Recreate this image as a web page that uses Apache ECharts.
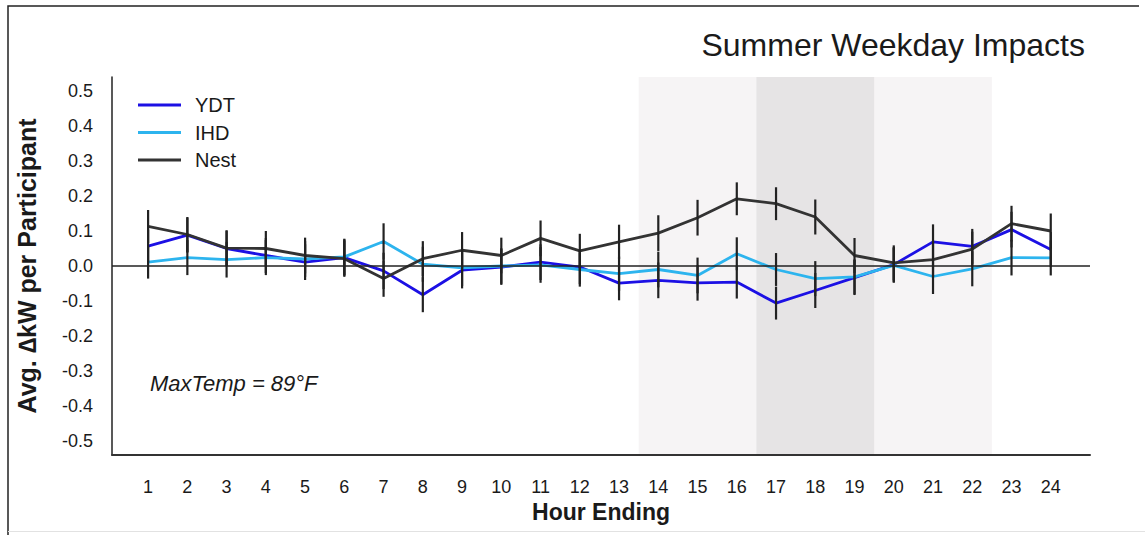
<!DOCTYPE html>
<html>
<head>
<meta charset="utf-8">
<script src="https://cdn.jsdelivr.net/npm/echarts@6/dist/echarts.min.js"></script>
<style>
  html, body { margin: 0; padding: 0; background: #fff; }
  #chart { width: 1145px; height: 535px; }
</style>
</head>
<body>
<div id="chart"></div>
<script>
// Hour-ending categories (1..24)
const hours = [1,2,3,4,5,6,7,8,9,10,11,12,13,14,15,16,17,18,19,20,21,22,23,24];

// Average change in kW per participant, by hour ending
const ydt  = [0.057,0.088,0.050,0.030,0.011,0.024,-0.014,-0.082,-0.012,-0.003,0.011,-0.003,
              -0.049,-0.041,-0.048,-0.046,-0.106,-0.070,-0.033,0.004,0.069,0.056,0.104,0.047];
const ihd  = [0.011,0.024,0.018,0.024,0.020,0.026,0.070,0.005,-0.005,0.000,0.003,-0.010,
              -0.022,-0.010,-0.027,0.035,-0.010,-0.036,-0.031,0.002,-0.030,-0.008,0.024,0.023];
const nest = [0.113,0.090,0.051,0.050,0.030,0.021,-0.036,0.021,0.045,0.030,0.079,0.043,
              0.069,0.094,0.138,0.192,0.178,0.140,0.030,0.009,0.018,0.048,0.121,0.100];

// Half-width of the confidence interval at each hour
const ciHalf = [0.047,0.050,0.051,0.050,0.051,0.052,0.052,0.050,0.052,0.051,0.051,0.049,
                0.049,0.051,0.051,0.047,0.047,0.050,0.050,0.050,0.050,0.050,0.051,0.050];

// Y tick labels
const yTicks = [-0.5,-0.4,-0.3,-0.2,-0.1,0,0.1,0.2,0.3,0.4,0.5];

// Peak windows (shaded)
const shoulderWindow = [13.5, 22.5];
const peakWindow = [16.5, 19.5];

const seriesList = [
  { name: 'YDT',  values: ydt,  color: '#1c10e4' },
  { name: 'IHD',  values: ihd,  color: '#2db4ee' },
  { name: 'Nest', values: nest, color: '#333333' }
];

const font = '"Liberation Sans", Arial, Helvetica, sans-serif';

// Error bar segments: [hour, low, high]
const errData = [];
seriesList.forEach(s => {
  s.values.forEach((v, i) => {
    errData.push([hours[i], v - ciHalf[i], v + ciHalf[i]]);
  });
});

const chart = echarts.init(document.getElementById('chart'), null, { renderer: 'svg' });

const lineSeries = seriesList.map(s => ({
  name: s.name,
  type: 'line',
  data: s.values.map((v, i) => [hours[i], v]),
  symbol: 'none',
  z: 3,
  lineStyle: { color: s.color, width: 2.8 },
  itemStyle: { color: s.color },
  animation: false
}));

// Shaded windows and zero line live on the first series
lineSeries[0].markArea = {
  silent: true,
  z: 0,
  data: [
    [{ xAxis: shoulderWindow[0], itemStyle: { color: '#f6f4f5' } }, { xAxis: shoulderWindow[1] }],
    [{ xAxis: peakWindow[0], itemStyle: { color: '#e6e4e5' } }, { xAxis: peakWindow[1] }]
  ]
};
lineSeries[0].markLine = {
  silent: true,
  symbol: 'none',
  label: { show: false },
  lineStyle: { color: '#222', width: 1.5, type: 'solid' },
  data: [{ yAxis: 0 }]
};

const option = {
  backgroundColor: '#fff',
  animation: false,
  title: {
    text: 'Summer Weekday Impacts',
    right: 55,
    top: 24,
    textStyle: { fontFamily: font, fontSize: 32, fontWeight: 'normal', color: '#1a1a1a' }
  },
  legend: {
    orient: 'vertical',
    left: 133,
    top: 90,
    itemWidth: 43,
    itemHeight: 3,
    itemGap: 7.5,
    icon: 'rect',
    data: seriesList.map(s => s.name),
    textStyle: { fontFamily: font, fontSize: 20, color: '#1a1a1a', padding: [0, 0, 0, 9] }
  },
  grid: { left: 112, right: 55, top: 77, bottom: 80, containLabel: false },
  xAxis: {
    type: 'value',
    min: 0.08,
    max: 25,
    name: 'Hour Ending',
    nameLocation: 'middle',
    nameGap: 45,
    nameTextStyle: { fontFamily: font, fontSize: 23, fontWeight: 'bold', color: '#1a1a1a' },
    axisLine: { show: true, onZero: false, lineStyle: { color: '#333', width: 2 } },
    axisTick: { show: false },
    splitLine: { show: false },
    axisLabel: {
      customValues: hours,
      margin: 23,
      fontFamily: font,
      fontSize: 18,
      color: '#1a1a1a'
    }
  },
  yAxis: {
    type: 'value',
    min: -0.54,
    max: 0.54,
    name: 'Avg. \u2206kW per Participant',
    nameLocation: 'middle',
    nameGap: 73,
    nameTextStyle: { fontFamily: font, fontSize: 25, fontWeight: 'bold', color: '#1a1a1a' },
    axisLine: { show: true, lineStyle: { color: '#222', width: 1.5 } },
    axisTick: { show: false },
    splitLine: { show: false },
    axisLabel: {
      customValues: yTicks,
      margin: 19,
      fontFamily: font,
      fontSize: 18,
      color: '#1a1a1a',
      formatter: v => v.toFixed(1)
    }
  },
  graphic: [
    {
      type: 'polyline',
      silent: true,
      shape: { points: [[8, 535], [8, 6], [1139, 6]] },
      style: { stroke: '#222', lineWidth: 1.5, fill: null }
    },
    {
      type: 'line',
      silent: true,
      shape: { x1: 8, y1: 531.5, x2: 1145, y2: 531.5 },
      style: { stroke: '#e2e2e2', lineWidth: 1 }
    },
    {
      type: 'text',
      left: 150,
      top: 372,
      style: {
        text: 'MaxTemp = 89\u00b0F',
        font: 'italic 22px ' + font,
        fill: '#1a1a1a'
      }
    }
  ],
  series: lineSeries.concat([{
    type: 'custom',
    name: 'ci',
    z: 4,
    silent: true,
    data: errData,
    encode: { x: 0, y: [1, 2] },
    renderItem: function (params, api) {
      const x = api.value(0);
      const lo = api.coord([x, api.value(1)]);
      const hi = api.coord([x, api.value(2)]);
      return {
        type: 'line',
        shape: { x1: lo[0], y1: lo[1], x2: hi[0], y2: hi[1] },
        style: { stroke: '#222', lineWidth: 2.2 }
      };
    }
  }])
};

chart.setOption(option);
</script>
</body>
</html>
